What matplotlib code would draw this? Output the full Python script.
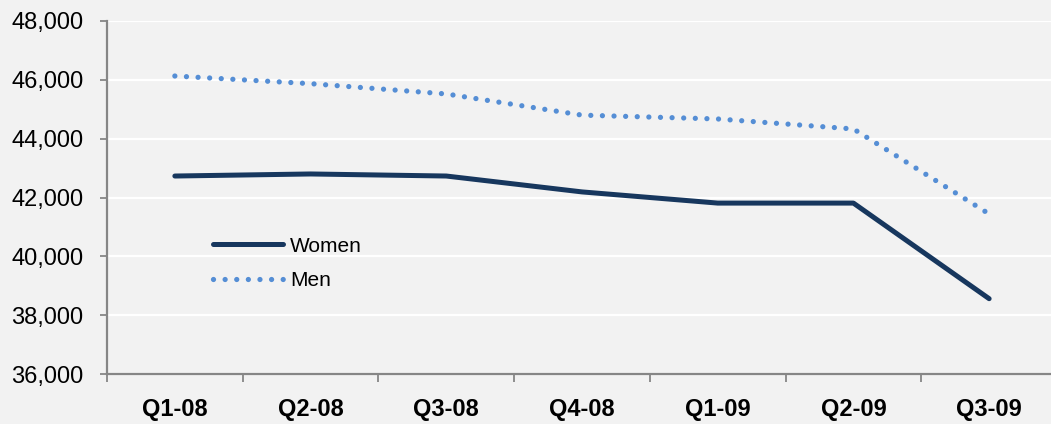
import matplotlib
matplotlib.use("Agg")
import matplotlib.pyplot as plt
from matplotlib.ticker import FuncFormatter, FixedLocator

plt.rcParams['font.family'] = ['Liberation Sans', 'DejaVu Sans']

quarters = ["Q1-08", "Q2-08", "Q3-08", "Q4-08", "Q1-09", "Q2-09", "Q3-09"]
women = [42730, 42800, 42730, 42190, 41810, 41810, 38560]
men = [46130, 45870, 45520, 44800, 44670, 44330, 41440]

W, H = 1051, 424
fig = plt.figure(figsize=(W / 100, H / 100), dpi=100)
fig.patch.set_facecolor("#f2f2f2")
ax = fig.add_axes([107 / W, 50 / H, 950 / W, 353 / H])
ax.set_facecolor("#f2f2f2")

x = list(range(len(quarters)))
ax.plot(x, women, color="#17375e", lw=3.6, solid_capstyle="round",
        solid_joinstyle="round", label="Women", zorder=3)
ax.plot(x, men, color="#558ed5", lw=3.8, linestyle=(0, (0.001, 2.2)),
        dash_capstyle="round", label="Men", zorder=3)

ax.set_xlim(-0.5, len(quarters) - 0.5)
ax.set_ylim(36000, 48000)
ax.set_yticks(range(36000, 48001, 2000))
ax.yaxis.set_major_formatter(FuncFormatter(lambda v, p: f"{int(v):,}"))
ax.grid(axis="y", color="white", lw=1.6, zorder=0)
ax.set_axisbelow(True)

ax.set_xticks(x)
ax.set_xticklabels(quarters, fontsize=17, fontweight="bold")
ax.xaxis.set_minor_locator(FixedLocator([i - 0.5 for i in range(len(quarters) + 1)]))
ax.tick_params(axis="x", which="major", length=0, pad=17)
ax.tick_params(axis="x", which="minor", length=6, width=1.3, color="#868686")
ax.tick_params(axis="y", length=5, width=1.3, color="#868686", labelsize=17, pad=12)

for s in ["top", "right"]:
    ax.spines[s].set_visible(False)
for s in ["left", "bottom"]:
    ax.spines[s].set_color("#868686")
    ax.spines[s].set_linewidth(1.6)

leg = ax.legend(loc="center left", bbox_to_anchor=(106 / 950, 0.313), frameon=False,
                fontsize=15, handlelength=3.35, handletextpad=0.35,
                labelspacing=0.75, borderpad=0, borderaxespad=0)

fig.savefig("out.png", dpi=100, facecolor=fig.get_facecolor())
